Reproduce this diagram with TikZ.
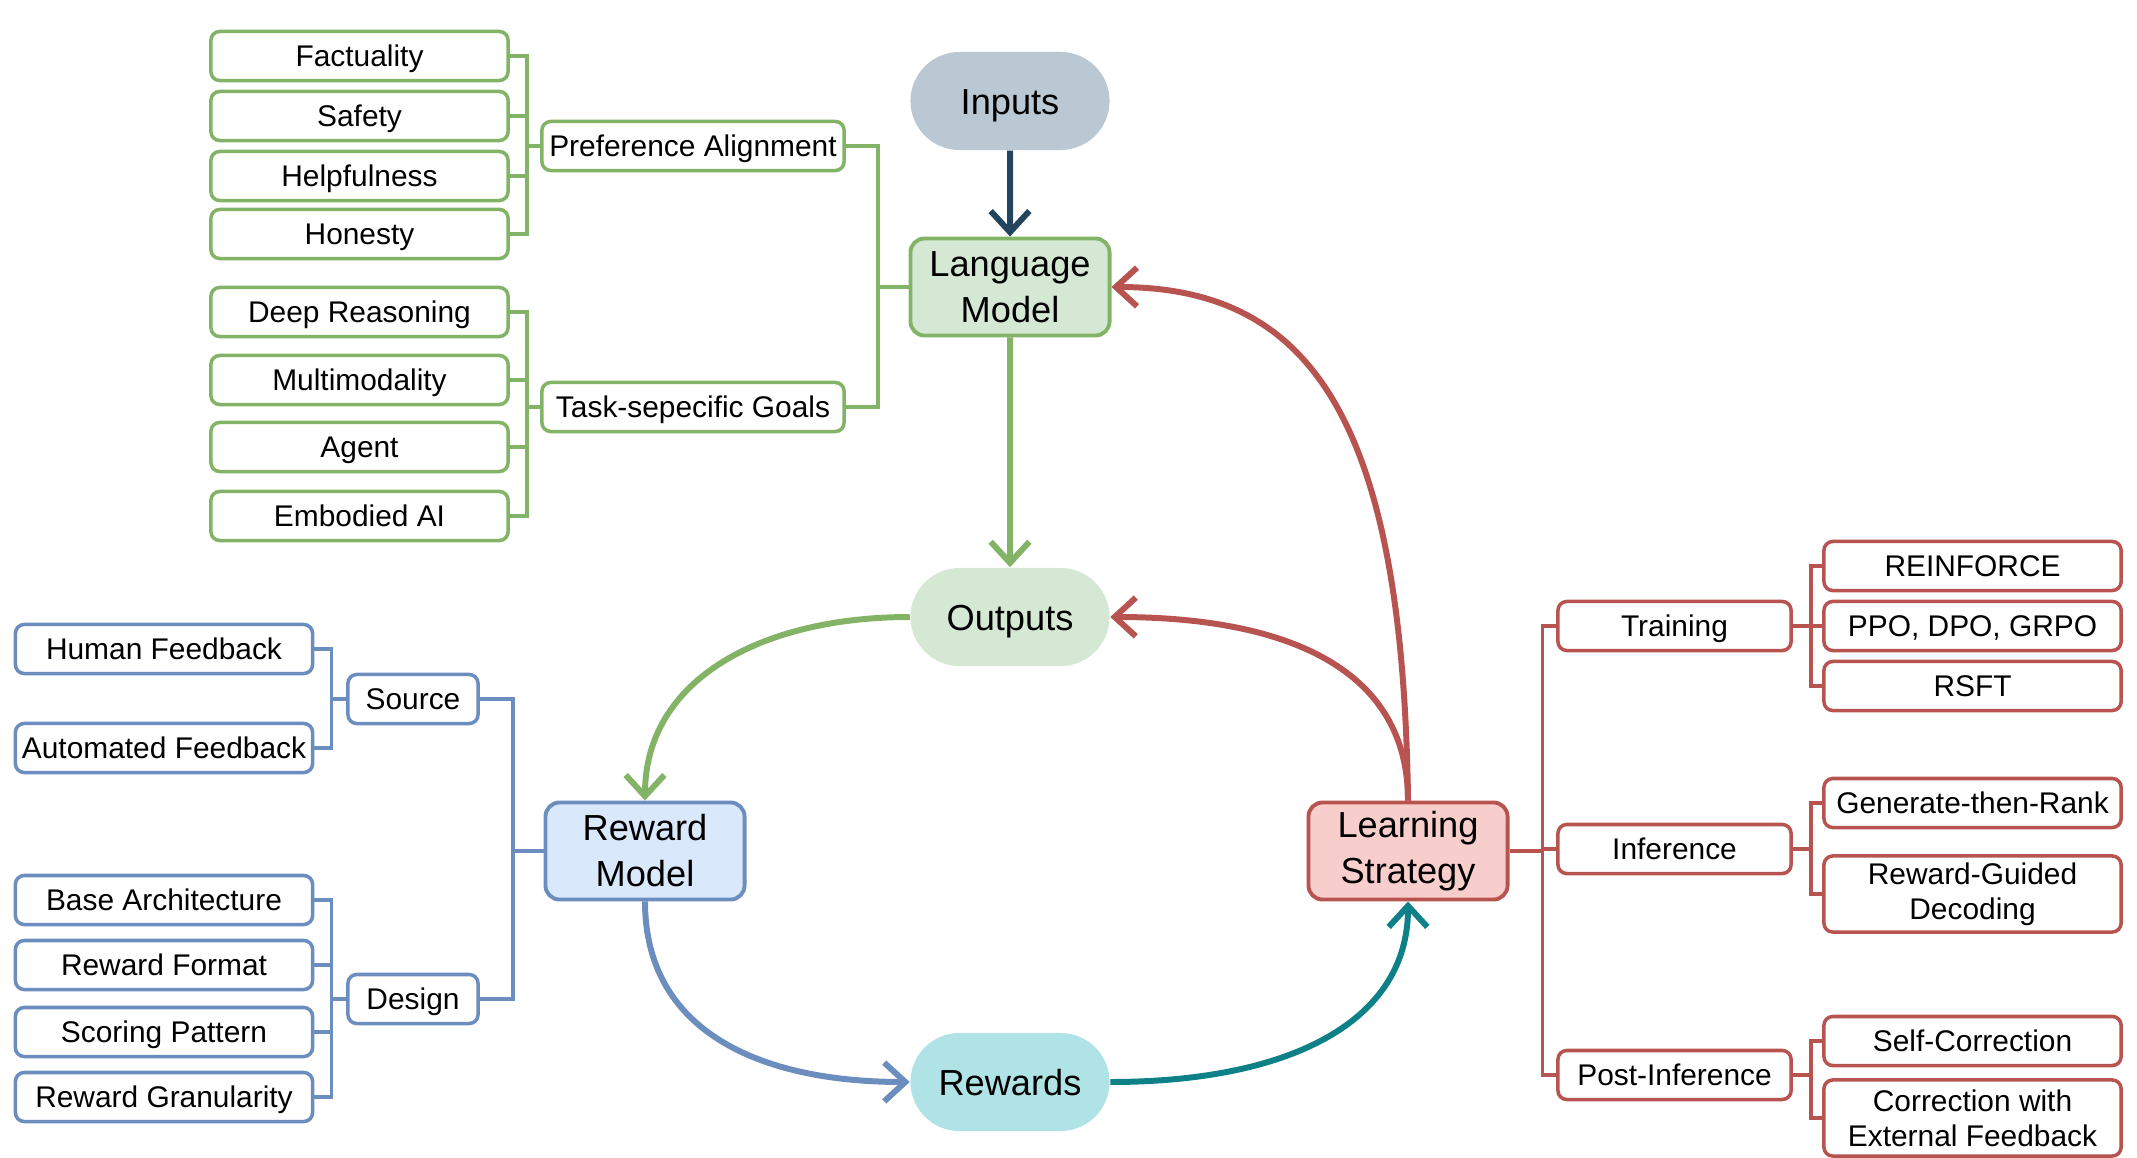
\documentclass[tikz,border=0pt]{standalone}
\usepackage{fontspec}
\setmainfont{Liberation Sans}
\usetikzlibrary{arrows.meta,shapes.misc}

\definecolor{gdraw}{HTML}{82B366}
\definecolor{gfill}{HTML}{D5E8D4}
\definecolor{bdraw}{HTML}{6C8EBF}
\definecolor{bfill}{HTML}{DAE8FC}
\definecolor{rdraw}{HTML}{B85450}
\definecolor{rfill}{HTML}{F8CECC}
\definecolor{infill}{HTML}{BAC8D3}
\definecolor{indraw}{HTML}{23445D}
\definecolor{rwfill}{HTML}{B0E3E6}
\definecolor{rwdraw}{HTML}{0E8088}

\tikzset{
  box/.style={draw, rectangle, rounded corners=2.5pt, line width=1pt, fill=white,
    inner sep=0pt, align=center, minimum height=0.49cm,
    text height=6.1pt, text depth=0pt,
    font=\fontsize{8.5}{10}\selectfont},
  leafbox/.style={box, minimum width=2.97cm},
  twoline/.style={text height={}, text depth={}, minimum height=0.76cm},
  mainbox/.style={draw, rectangle, rounded corners=4pt, line width=1.1pt,
    minimum width=1.99cm, minimum height=0.97cm, inner sep=0pt, align=center,
    font=\fontsize{10.3}{13.1}\selectfont},
  pill/.style={rounded rectangle, minimum width=1.99cm, minimum height=0.98cm,
    inner sep=0pt, text height=7.4pt, text depth=0pt,
    font=\fontsize{10.3}{13.1}\selectfont},
  flow/.style={line width=1.7pt, -{Straight Barb[length=6pt,width=11pt]}},
  tree/.style={line width=1pt}
}

\begin{document}
\begin{tikzpicture}[x=0.01cm, y=-0.01cm]
    \useasboundingbox (0,0) rectangle (2137,1158);

    % Central loop
    \node[pill, fill=infill] (inputs) at (1010,101) {Inputs};
    \node[mainbox, draw=gdraw, fill=gfill] (lm) at (1010,287) {Language\\Model};
    \node[pill, fill=gfill] (outputs) at (1010,617) {Outputs};
    \node[mainbox, draw=bdraw, fill=bfill] (rm) at (645,851) {Reward\\Model};
    \node[mainbox, draw=rdraw, fill=rfill] (ls) at (1408,851) {Learning\\Strategy};
    \node[pill, fill=rwfill] (rewards) at (1010,1082) {Rewards};

    % Language model goals
    \node[leafbox, draw=gdraw] (fact) at (359.5,56) {Factuality};
    \node[leafbox, draw=gdraw] (safety) at (359.5,116) {Safety};
    \node[leafbox, draw=gdraw] (helpful) at (359.5,176) {Helpfulness};
    \node[leafbox, draw=gdraw] (honest) at (359.5,234) {Honesty};
    \node[leafbox, draw=gdraw] (reason) at (359.5,312) {Deep Reasoning};
    \node[leafbox, draw=gdraw] (multimodal) at (359.5,380) {Multimodality};
    \node[leafbox, draw=gdraw] (agent) at (359.5,447) {Agent};
    \node[leafbox, draw=gdraw] (embodied) at (359.5,516) {Embodied AI};
    \node[box, draw=gdraw, minimum width=3.02cm] (pref) at (693,146) {Preference Alignment};
    \node[box, draw=gdraw, minimum width=3.02cm] (task) at (693,407) {Task-sepecific Goals};

    % Reward model branches
    \node[leafbox, draw=bdraw] (human) at (164,649) {Human Feedback};
    \node[leafbox, draw=bdraw] (auto) at (164,748) {Automated Feedback};
    \node[leafbox, draw=bdraw] (arch) at (164,900) {Base Architecture};
    \node[leafbox, draw=bdraw] (format) at (164,965) {Reward Format};
    \node[leafbox, draw=bdraw] (scoring) at (164,1032) {Scoring Pattern};
    \node[leafbox, draw=bdraw] (granular) at (164,1097) {Reward Granularity};
    \node[box, draw=bdraw, minimum width=1.30cm] (source) at (413,699) {Source};
    \node[box, draw=bdraw, minimum width=1.30cm] (design) at (413,999) {Design};

    % Learning strategy branches
    \node[box, draw=rdraw, minimum width=2.33cm] (training) at (1674.5,626) {Training};
    \node[box, draw=rdraw, minimum width=2.33cm] (inference) at (1674.5,849) {Inference};
    \node[box, draw=rdraw, minimum width=2.33cm] (postinf) at (1674.5,1075) {Post-Inference};
    \node[leafbox, draw=rdraw] (reinforce) at (1972.5,566) {REINFORCE};
    \node[leafbox, draw=rdraw] (ppo) at (1972.5,626) {PPO, DPO, GRPO};
    \node[leafbox, draw=rdraw] (rsft) at (1972.5,686) {RSFT};
    \node[leafbox, draw=rdraw] (genrank) at (1972.5,803) {Generate-then-Rank};
    \node[leafbox, twoline, draw=rdraw] (guided) at (1972.5,894) {Reward-Guided\\Decoding};
    \node[leafbox, draw=rdraw] (selfcorr) at (1972.5,1041) {Self-Correction};
    \node[leafbox, twoline, draw=rdraw] (extcorr) at (1972.5,1118) {Correction with\\External Feedback};

    % Green brackets
    \draw[tree, gdraw] (fact.east) -- ++(17,0) |- (pref.west);
    \draw[tree, gdraw] (safety.east) -- ++(17,0) |- (pref.west);
    \draw[tree, gdraw] (helpful.east) -- ++(17,0) |- (pref.west);
    \draw[tree, gdraw] (honest.east) -- ++(17,0) |- (pref.west);
    \draw[tree, gdraw] (reason.east) -- ++(17,0) |- (task.west);
    \draw[tree, gdraw] (multimodal.east) -- ++(17,0) |- (task.west);
    \draw[tree, gdraw] (agent.east) -- ++(17,0) |- (task.west);
    \draw[tree, gdraw] (embodied.east) -- ++(17,0) |- (task.west);
    \draw[tree, gdraw] (pref.east) -- ++(32,0) |- (lm.west);
    \draw[tree, gdraw] (task.east) -- ++(32,0) |- (lm.west);

    % Blue brackets
    \draw[tree, bdraw] (human.east) -- ++(17,0) |- (source.west);
    \draw[tree, bdraw] (auto.east) -- ++(17,0) |- (source.west);
    \draw[tree, bdraw] (arch.east) -- ++(17,0) |- (design.west);
    \draw[tree, bdraw] (format.east) -- ++(17,0) |- (design.west);
    \draw[tree, bdraw] (scoring.east) -- ++(17,0) |- (design.west);
    \draw[tree, bdraw] (granular.east) -- ++(17,0) |- (design.west);
    \draw[tree, bdraw] (source.east) -- ++(33,0) |- (rm.west);
    \draw[tree, bdraw] (design.east) -- ++(33,0) |- (rm.west);

    % Red brackets
    \draw[tree, rdraw] (ls.east) -- ++(33,0) |- (training.west);
    \draw[tree, rdraw] (ls.east) -- ++(33,0) |- (inference.west);
    \draw[tree, rdraw] (ls.east) -- ++(33,0) |- (postinf.west);
    \draw[tree, rdraw] (training.east) -- ++(18,0) |- (reinforce.west);
    \draw[tree, rdraw] (training.east) -- ++(18,0) |- (ppo.west);
    \draw[tree, rdraw] (training.east) -- ++(18,0) |- (rsft.west);
    \draw[tree, rdraw] (inference.east) -- ++(18,0) |- (genrank.west);
    \draw[tree, rdraw] (inference.east) -- ++(18,0) |- (guided.west);
    \draw[tree, rdraw] (postinf.east) -- ++(18,0) |- (selfcorr.west);
    \draw[tree, rdraw] (postinf.east) -- ++(18,0) |- (extcorr.west);

    % Loop arrows
    \draw[flow, indraw] (inputs) -- (lm);
    \draw[flow, gdraw] (lm) -- (outputs);
    \draw[flow, gdraw] (outputs.west) .. controls +(-150,0) and +(0,-120) .. (rm.north);
    \draw[flow, bdraw] (rm.south) .. controls +(0,130) and +(-150,0) .. (rewards.west);
    \draw[flow, rwdraw] (rewards.east) .. controls +(180,0) and +(0,120) .. (ls.south);
    \draw[flow, rdraw] (ls.north) .. controls +(0,-130) and +(180,0) .. (outputs.east);
    \draw[flow, rdraw] (ls.north) .. controls +(-5,-380) and +(200,0) .. (lm.east);

\end{tikzpicture}
\end{document}
